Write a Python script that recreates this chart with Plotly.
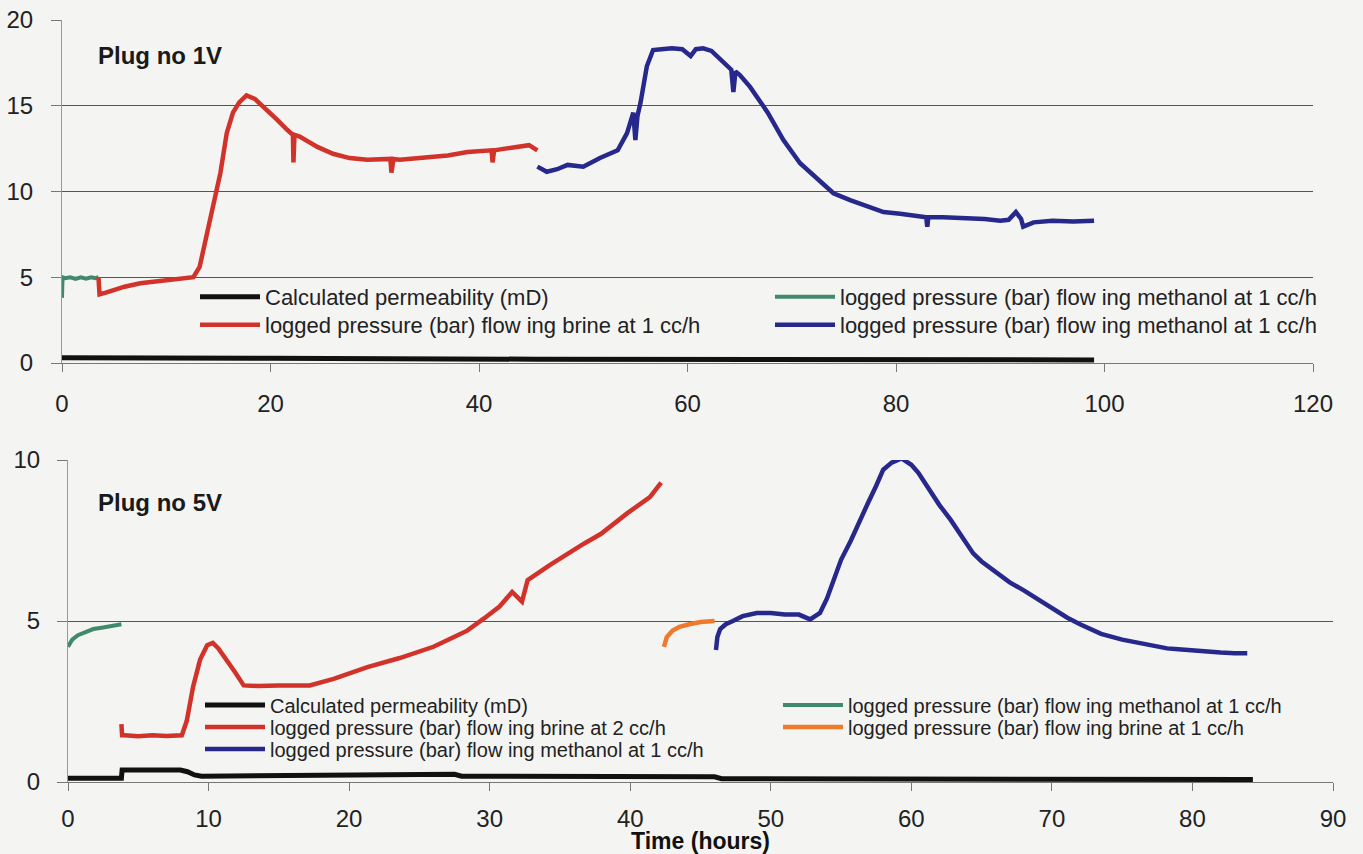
import plotly.graph_objects as go

# ---------------- Plug no 1V (top) ----------------
perm1_x = [0, 3.5, 20, 45.5, 70, 99]
perm1_y = [0.3, 0.3, 0.28, 0.22, 0.18, 0.18]

meth1a_x = [0, 0.05, 0.3, 0.8, 1.3, 1.8, 2.3, 2.8, 3.2, 3.5]
meth1a_y = [3.8, 5.0, 4.95, 5.0, 4.9, 5.0, 4.92, 5.0, 4.95, 5.0]

brine1_x = [3.5, 3.6, 4.2, 4.9, 6.0, 7.5, 9.0, 10.0, 11.5, 12.6, 13.2, 13.9, 14.5, 15.2, 15.8,
            16.4, 17.0, 17.7, 18.5, 19.7, 20.6, 21.6, 22.15, 22.2, 22.3, 22.8, 23.6, 24.5, 26.0,
            27.6, 29.3, 31.5, 31.6, 31.8, 32.4, 34.0, 35.6, 37.0, 38.9, 40.2, 41.2, 41.3, 41.45,
            42.5, 43.7, 44.8, 45.6]
brine1_y = [5.0, 4.0, 4.1, 4.25, 4.45, 4.65, 4.75, 4.85, 4.9, 5.0, 5.6, 7.6, 9.1, 11.1, 13.4,
            14.6, 15.2, 15.6, 15.4, 14.75, 14.2, 13.6, 13.3, 11.7, 13.3, 13.2, 12.9, 12.6, 12.2,
            11.95, 11.85, 11.9, 11.1, 11.9, 11.85, 11.95, 12.0, 12.1, 12.3, 12.35, 12.4, 11.7, 12.4,
            12.5, 12.6, 12.7, 12.4]

meth1b_x = [45.6, 46.5, 47.5, 48.5, 50.0, 51.6, 53.3, 54.2, 54.8, 55.0, 55.2, 55.5, 56.1, 56.7,
            57.5, 58.5, 59.5, 60.3, 60.8, 61.5, 62.3, 63.1, 64.2, 64.4, 64.6, 65.0, 66.0, 67.7,
            69.2, 70.8, 72.5, 74.0, 75.6, 77.3, 78.8, 80.4, 82.0, 82.9, 83.0, 83.1, 84.5, 86.8,
            88.5, 90.0, 90.8, 91.5, 92.0, 92.2, 93.2, 95.0, 97.0, 99.0]
meth1b_y = [11.45, 11.15, 11.3, 11.55, 11.45, 11.95, 12.4, 13.4, 14.6, 13.0, 14.4, 15.2, 17.3, 18.25,
            18.3, 18.35, 18.3, 17.9, 18.3, 18.35, 18.2, 17.7, 17.1, 15.8, 17.0, 16.8, 16.1, 14.6,
            13.0, 11.65, 10.7, 9.9, 9.5, 9.1, 8.8, 8.7, 8.6, 8.5, 7.95, 8.5, 8.5, 8.45,
            8.4, 8.3, 8.35, 8.8, 8.4, 7.95, 8.2, 8.3, 8.25, 8.3]

# ---------------- Plug no 5V (bottom) ----------------
perm5_x = [0, 3.8, 3.85, 8.0, 8.5, 9.0, 9.5, 15, 20, 27.5, 28, 46, 46.5, 84.3]
perm5_y = [0.12, 0.12, 0.37, 0.37, 0.32, 0.22, 0.18, 0.2, 0.24, 0.24, 0.18, 0.16, 0.1, 0.08]

meth5a_x = [0, 0.3, 0.7, 1.2, 1.8, 2.5, 3.2, 3.8]
meth5a_y = [4.2, 4.42, 4.56, 4.66, 4.75, 4.8, 4.86, 4.9]

brine5a_x = [3.8, 3.85, 4.0, 5.0, 6.0, 7.0, 8.1, 8.45, 8.9, 9.4, 9.9, 10.3, 10.7, 11.3, 11.9,
             12.5, 13.5, 15.0, 16.5, 17.2, 18.9, 21.3, 23.6, 26.0, 27.2, 28.4, 29.6, 30.7, 31.6,
             32.3, 32.7, 34.3, 36.7, 37.9, 39.8, 41.4, 42.2]
brine5a_y = [1.8, 1.45, 1.45, 1.42, 1.45, 1.43, 1.45, 1.9, 2.96, 3.8, 4.25, 4.32, 4.15, 3.8, 3.4,
             3.0, 2.98, 3.0, 2.98, 3.0, 3.2, 3.57, 3.85, 4.2, 4.45, 4.7, 5.08, 5.45, 5.9,
             5.6, 6.27, 6.74, 7.4, 7.7, 8.35, 8.85, 9.3]

brine5b_x = [42.4, 42.6, 43.0, 43.5, 44.2, 45.0, 46.0]
brine5b_y = [4.2, 4.5, 4.7, 4.82, 4.9, 4.97, 5.0]

meth5b_x = [46.1, 46.2, 46.4, 46.8, 47.3, 48.0, 49.0, 50.0, 51.0, 52.0, 52.8, 53.5, 54.0, 54.5,
            55.0, 55.7, 56.3, 56.9, 57.5, 58.0, 58.6, 59.3, 60.0, 60.5, 61.1, 62.0, 62.8, 64.0,
            64.4, 65.0, 66.3, 67.0, 68.0, 68.7, 70.0, 71.1, 72.0, 73.5, 75.0, 75.8, 77.0, 78.2,
            79.0, 80.6, 82.0, 83.0, 83.9]
meth5b_y = [4.1, 4.5, 4.75, 4.9, 5.0, 5.15, 5.25, 5.25, 5.2, 5.2, 5.05, 5.25, 5.7, 6.35,
            6.9, 7.5, 8.1, 8.65, 9.2, 9.7, 9.92, 10.05, 9.85, 9.6, 9.2, 8.6, 8.14, 7.35,
            7.1, 6.85, 6.4, 6.2, 5.95, 5.75, 5.4, 5.1, 4.9, 4.6, 4.42, 4.35, 4.25, 4.15,
            4.12, 4.05, 4.02, 4.0, 4.0]

lbl_perm = "Calculated permeability (mD)"
lbl_meth = "logged pressure (bar) flow ing methanol at 1 cc/h"
lbl_brine1 = "logged pressure (bar) flow ing brine at 1 cc/h"
lbl_brine2 = "logged pressure (bar) flow ing brine at 2 cc/h"

BLACK = "#111111"
GREEN = "#3f8a6c"
RED = "#d1322a"
BLUE = "#27288c"
ORANGE = "#f07a2c"

FONT = "Arial, Liberation Sans, Helvetica, sans-serif"

fig = go.Figure()

def add(x, y, name, color, width, xa, ya, legend):
    fig.add_trace(go.Scatter(x=x, y=y, mode="lines", name=name,
                             line=dict(color=color, width=width),
                             xaxis=xa, yaxis=ya, legend=legend))

# top
add(perm1_x, perm1_y, lbl_perm, BLACK, 5, "x", "y", "legend")
add(meth1a_x, meth1a_y, lbl_meth, GREEN, 4, "x", "y", "legend")
add(brine1_x, brine1_y, lbl_brine1, RED, 4.5, "x", "y", "legend2")
add(meth1b_x, meth1b_y, lbl_meth, BLUE, 4.5, "x", "y", "legend2")
# bottom
add(perm5_x, perm5_y, lbl_perm, BLACK, 5, "x2", "y2", "legend3")
add(meth5a_x, meth5a_y, lbl_meth, GREEN, 4, "x2", "y2", "legend3")
add(brine5a_x, brine5a_y, lbl_brine2, RED, 4.5, "x2", "y2", "legend4")
add(brine5b_x, brine5b_y, lbl_brine1, ORANGE, 4.5, "x2", "y2", "legend4")
add(meth5b_x, meth5b_y, lbl_meth, BLUE, 4.5, "x2", "y2", "legend5")

W, H = 1363, 854

def px_x(p):
    return p / W

def px_y(p):
    return (H - p) / H

tickfont = dict(family=FONT, size=24, color="#222222")

common_x = dict(showgrid=False, zeroline=False, showline=True, linecolor="#777777", linewidth=1,
                ticks="outside", ticklen=8, tickcolor="#777777", tickfont=tickfont)
common_y = dict(showgrid=True, gridcolor="#555555", gridwidth=1, zeroline=False, showline=True,
                linecolor="#999999", linewidth=1, ticks="outside", ticklen=10, tickcolor="#777777",
                tickfont=tickfont)

def legend_row(ypix, xpix, ew, size):
    return dict(orientation="h", x=px_x(xpix - 5), xanchor="left", y=px_y(ypix), yanchor="middle",
                bgcolor="rgba(0,0,0,0)", borderwidth=0, itemwidth=60, entrywidth=ew,
                entrywidthmode="pixels", font=dict(family=FONT, size=size, color="#222222"),
                itemclick=False, itemdoubleclick=False)

fig.update_layout(
    width=W, height=H, template="none",
    margin=dict(l=0, r=0, t=0, b=0),
    paper_bgcolor="#f4f4f2", plot_bgcolor="#f4f4f2",
    showlegend=True,
    xaxis=dict(domain=[px_x(62), px_x(1313)], range=[0, 120], tickvals=[0, 20, 40, 60, 80, 100, 120],
               anchor="y", ticklabelstandoff=11, automargin=False, **common_x),
    yaxis=dict(domain=[px_y(363), px_y(20)], range=[0, 20], tickvals=[0, 5, 10, 15, 20],
               anchor="x", ticklabelstandoff=13, automargin=False, **common_y),
    xaxis2=dict(domain=[px_x(68), px_x(1333)], range=[0, 90],
                tickvals=[0, 10, 20, 30, 40, 50, 60, 70, 80, 90], anchor="y2",
                ticklabelstandoff=7, automargin=False,
                title=dict(text="<b>Time (hours)</b>", font=dict(family=FONT, size=23, color="#111111"),
                           standoff=2),
                **common_x),
    yaxis2=dict(domain=[px_y(782), px_y(460)], range=[0, 10], tickvals=[0, 5, 10],
                anchor="x2", ticklabelstandoff=12, automargin=False, **common_y),
    legend=legend_row(297, 200, 500, 22),
    legend2=legend_row(325, 200, 500, 22),
    legend3=legend_row(705, 205, 503, 20),
    legend4=legend_row(727, 205, 503, 20),
    legend5=legend_row(749, 205, 503, 20),
    annotations=[
        dict(text="<b>Plug no 1V</b>", x=px_x(96), y=px_y(56), xref="paper", yref="paper",
             xanchor="left", yanchor="middle", showarrow=False,
             font=dict(family=FONT, size=24, color="#1a1a1a")),
        dict(text="<b>Plug no 5V</b>", x=px_x(96), y=px_y(502), xref="paper", yref="paper",
             xanchor="left", yanchor="middle", showarrow=False,
             font=dict(family=FONT, size=24, color="#1a1a1a")),
    ],
)

fig.write_html("out.html")
